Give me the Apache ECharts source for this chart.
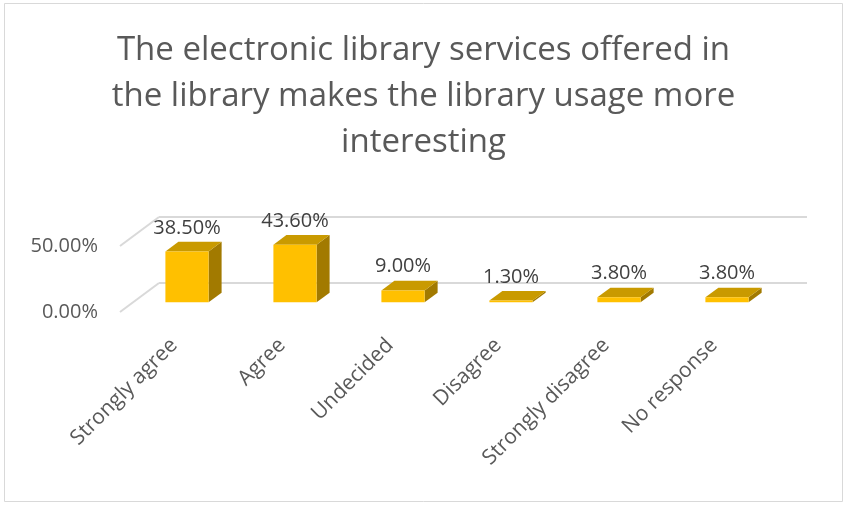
<!DOCTYPE html>
<html>
<head>
<meta charset="utf-8">
<title>Electronic library services</title>
<script src="https://cdn.jsdelivr.net/npm/echarts@6/dist/echarts.min.js"></script>
<style>
  html, body { margin: 0; padding: 0; background: #ffffff; }
  #chart { width: 847px; height: 506px; }
</style>
</head>
<body>
<div id="chart"></div>
<script>
// Survey responses
const categories = ['Strongly agree', 'Agree', 'Undecided', 'Disagree', 'Strongly disagree', 'No response'];
const percentValues = [38.5, 43.6, 9.0, 1.3, 3.8, 3.8];
const yTicks = [0, 50];
const titleLines = [
  'The electronic library services offered in',
  'the library makes the library usage more',
  'interesting'
];

// Oblique depth of the 3D floor (full depth) in pixels
const DEPTH_X = 39;
const DEPTH_Y = -29;
// Bars occupy the middle third of the floor depth
const BAR_DX = DEPTH_X / 3;
const BAR_DY = DEPTH_Y / 3;

const FONT = 'Open Sans';
const TEXT_COLOR = '#595959';
const GRID_COLOR = '#d9d9d9';

// front plane of the plot
const FRONT = { left: 120, right: 79, top: 246, bottom: 194 };

function shifted(g, dx, dy) {
  return { left: g.left + dx, right: g.right - dx, top: g.top + dy, bottom: g.bottom - dy };
}

const backGrid = shifted(FRONT, DEPTH_X, DEPTH_Y);
const barGrid = shifted(FRONT, BAR_DX, BAR_DY);

const valueAxisBase = { type: 'value', min: 0, max: 50, interval: 50 };

const chart = echarts.init(document.getElementById('chart'), null, { renderer: 'canvas' });

chart.setOption({
  animation: false,
  backgroundColor: '#ffffff',
  title: {
    text: titleLines.join('\n'),
    left: 'center',
    top: 23,
    textStyle: {
      fontFamily: FONT,
      fontSize: 33,
      fontWeight: 'normal',
      color: TEXT_COLOR,
      lineHeight: 46
    }
  },
  graphic: [{
    type: 'rect',
    shape: { x: 4.5, y: 3.5, width: 838, height: 498 },
    style: { fill: 'none', stroke: GRID_COLOR, lineWidth: 1 },
    silent: true,
    z: -10
  }],
  grid: [
    Object.assign({ containLabel: false }, backGrid),
    Object.assign({ containLabel: false }, FRONT),
    Object.assign({ containLabel: false }, barGrid)
  ],
  xAxis: [
    { type: 'category', gridIndex: 0, data: categories, show: false },
    {
      type: 'category', gridIndex: 1, data: categories,
      axisLine: { show: false }, axisTick: { show: false },
      axisLabel: {
        rotate: 45, interval: 0, margin: 30,
        fontFamily: FONT, fontSize: 21, color: TEXT_COLOR
      }
    },
    { type: 'category', gridIndex: 2, data: categories, show: false }
  ],
  yAxis: [
    Object.assign({}, valueAxisBase, {
      gridIndex: 0,
      axisLine: { show: false }, axisTick: { show: false }, axisLabel: { show: false },
      splitLine: { show: true, lineStyle: { color: GRID_COLOR, width: 2 } }
    }),
    Object.assign({}, valueAxisBase, {
      gridIndex: 1,
      axisLine: { show: false }, axisTick: { show: false },
      splitLine: { show: false },
      axisLabel: {
        margin: 22, fontFamily: FONT, fontSize: 20, color: TEXT_COLOR,
        formatter: v => v.toFixed(2) + '%'
      }
    }),
    Object.assign({}, valueAxisBase, { gridIndex: 2, show: false })
  ],
  series: [
    {
      // side-wall gridlines running from the front edge to the back wall
      type: 'custom',
      xAxisIndex: 1, yAxisIndex: 1,
      silent: true,
      z: 1,
      data: yTicks.map(v => [0, v]),
      encode: { x: 0, y: 1 },
      renderItem: (params, api) => {
        const p = api.coord([api.value(0), api.value(1)]);
        const left = p[0] - api.size([1, 0])[0] / 2;
        return {
          type: 'line',
          shape: { x1: left, y1: p[1], x2: left + DEPTH_X, y2: p[1] + DEPTH_Y },
          style: { stroke: GRID_COLOR, lineWidth: 2 }
        };
      }
    },
    {
      // 3D bars: front, right side and top faces
      type: 'custom',
      xAxisIndex: 2, yAxisIndex: 2,
      z: 3,
      data: percentValues.map((v, i) => [i, v]),
      encode: { x: 0, y: 1 },
      renderItem: (params, api) => {
        const idx = api.value(0);
        const val = api.value(1);
        const base = api.coord([idx, 0]);
        const top = api.coord([idx, val]);
        const bw = api.size([1, 0])[0] * 0.4;
        const x0 = base[0] - bw / 2;
        const x1 = base[0] + bw / 2;
        const yb = base[1];
        const yt = top[1];
        return {
          type: 'group',
          children: [
            {
              type: 'polygon',
              shape: { points: [[x1, yb], [x1 + BAR_DX, yb + BAR_DY], [x1 + BAR_DX, yt + BAR_DY], [x1, yt]] },
              style: { fill: '#a27a00' }
            },
            {
              type: 'polygon',
              shape: { points: [[x0, yt], [x1, yt], [x1 + BAR_DX, yt + BAR_DY], [x0 + BAR_DX, yt + BAR_DY]] },
              style: { fill: '#c99a00' }
            },
            {
              type: 'polygon',
              shape: { points: [[x0, yb], [x1, yb], [x1, yt], [x0, yt]] },
              style: { fill: '#ffc000' }
            },
            {
              type: 'text',
              style: {
                text: val.toFixed(2) + '%',
                x: base[0],
                y: yt + BAR_DY - 14,
                align: 'center',
                verticalAlign: 'middle',
                fontFamily: FONT,
                fontSize: 20,
                fill: '#404040'
              }
            }
          ]
        };
      }
    }
  ]
});
</script>
</body>
</html>
